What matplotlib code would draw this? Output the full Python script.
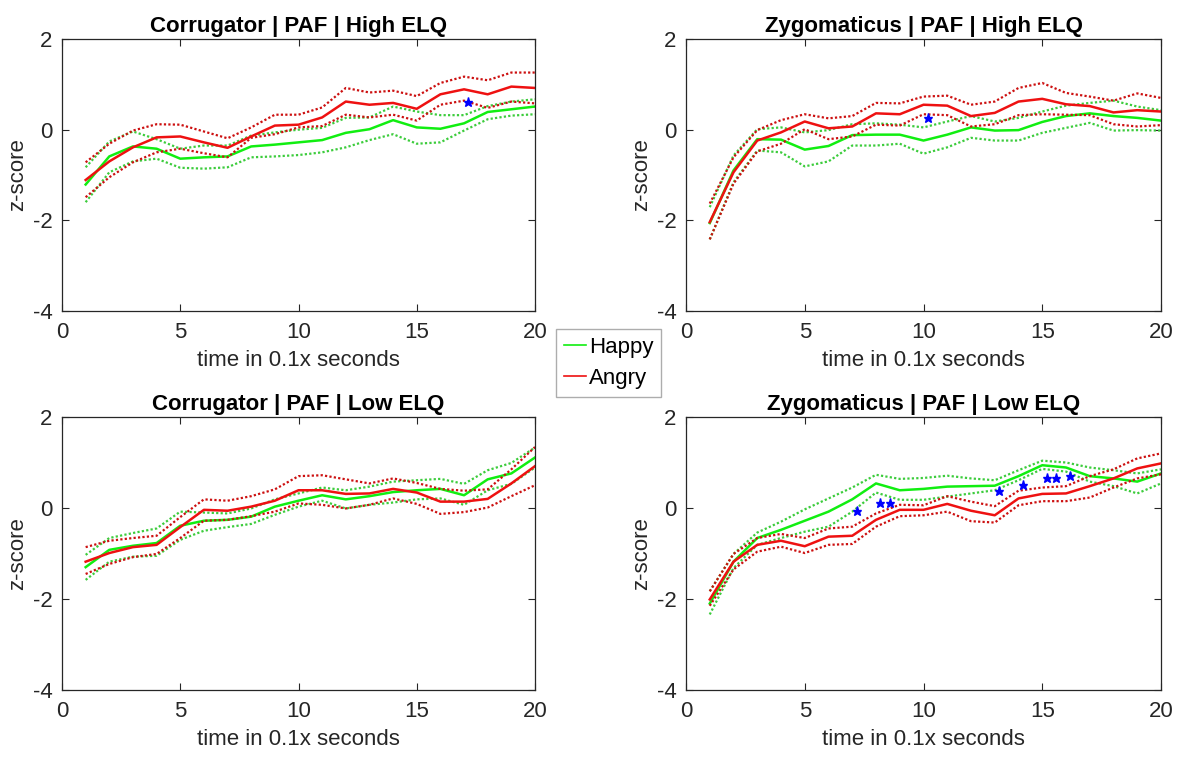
import numpy as np
import matplotlib.pyplot as plt
from matplotlib.lines import Line2D

plt.rcParams['font.family'] = ['Liberation Sans', 'DejaVu Sans']
plt.rcParams['axes.unicode_minus'] = False

t = np.arange(1, 21)

# Corrugator | PAF | High ELQ
cor_hi_happy = [-1.21, -0.59, -0.37, -0.42, -0.64, -0.61, -0.59, -0.37, -0.33, -0.28,
                -0.23, -0.07, 0.01, 0.21, 0.05, 0.02, 0.14, 0.39, 0.45, 0.51]
cor_hi_happy_up = [-0.83, -0.26, -0.04, -0.21, -0.42, -0.35, -0.35, -0.13, -0.06, 0.00,
                   0.04, 0.26, 0.27, 0.51, 0.40, 0.32, 0.32, 0.52, 0.62, 0.67]
cor_hi_happy_lo = [-1.60, -0.94, -0.70, -0.64, -0.84, -0.86, -0.83, -0.61, -0.59, -0.56,
                   -0.50, -0.39, -0.23, -0.10, -0.31, -0.28, -0.02, 0.23, 0.31, 0.34]
cor_hi_angry = [-1.11, -0.70, -0.39, -0.17, -0.15, -0.28, -0.40, -0.15, 0.09, 0.11,
                0.27, 0.62, 0.55, 0.59, 0.46, 0.78, 0.89, 0.78, 0.95, 0.92]
cor_hi_angry_up = [-0.72, -0.31, -0.02, 0.12, 0.11, -0.04, -0.19, 0.05, 0.33, 0.33,
                   0.49, 0.92, 0.82, 0.86, 0.74, 1.03, 1.17, 1.09, 1.26, 1.26]
cor_hi_angry_lo = [-1.49, -1.05, -0.72, -0.50, -0.42, -0.52, -0.61, -0.18, -0.10, 0.05,
                   0.08, 0.33, 0.27, 0.33, 0.20, 0.55, 0.64, 0.48, 0.62, 0.58]
cor_hi_sig_x = [17.15]
cor_hi_sig_y = [0.61]

# Zygomaticus | PAF | High ELQ
zyg_hi_happy = [-2.06, -0.90, -0.21, -0.22, -0.44, -0.36, -0.12, -0.11, -0.11, -0.24,
                -0.11, 0.05, -0.02, -0.01, 0.17, 0.30, 0.36, 0.30, 0.26, 0.20]
zyg_hi_happy_up = [-1.71, -0.57, 0.01, 0.05, -0.06, -0.01, 0.12, 0.14, 0.11, 0.05,
                   0.18, 0.30, 0.18, 0.26, 0.40, 0.53, 0.59, 0.64, 0.51, 0.43]
zyg_hi_happy_lo = [-2.42, -1.16, -0.46, -0.50, -0.81, -0.70, -0.35, -0.35, -0.31, -0.53,
                   -0.39, -0.18, -0.24, -0.24, -0.07, 0.04, 0.15, -0.02, -0.01, -0.02]
zyg_hi_angry = [-2.04, -0.94, -0.24, -0.06, 0.18, 0.03, 0.07, 0.36, 0.34, 0.55,
                0.53, 0.30, 0.37, 0.62, 0.68, 0.56, 0.52, 0.38, 0.43, 0.40]
zyg_hi_angry_up = [-1.63, -0.61, -0.01, 0.21, 0.34, 0.25, 0.30, 0.59, 0.58, 0.73,
                   0.75, 0.55, 0.62, 0.92, 1.03, 0.81, 0.73, 0.64, 0.80, 0.70]
zyg_hi_angry_lo = [-2.42, -1.19, -0.48, -0.31, 0.01, -0.21, -0.15, 0.11, 0.09, 0.34,
                   0.32, 0.07, 0.12, 0.32, 0.34, 0.33, 0.32, 0.12, 0.07, 0.10]
zyg_hi_sig_x = [10.17]
zyg_hi_sig_y = [0.26]

# Corrugator | PAF | Low ELQ
cor_lo_happy = [-1.30, -0.92, -0.83, -0.77, -0.39, -0.28, -0.26, -0.19, 0.03, 0.16,
                0.28, 0.19, 0.26, 0.35, 0.39, 0.42, 0.28, 0.63, 0.76, 1.11]
cor_lo_happy_up = [-1.03, -0.66, -0.55, -0.45, -0.08, -0.10, -0.12, -0.01, 0.19, 0.32,
                   0.45, 0.39, 0.47, 0.58, 0.61, 0.64, 0.53, 0.83, 0.99, 1.33]
cor_lo_happy_lo = [-1.58, -1.18, -1.07, -1.05, -0.70, -0.50, -0.42, -0.35, -0.15, 0.03,
                   0.16, -0.01, 0.07, 0.12, 0.19, 0.21, 0.07, 0.39, 0.53, 0.89]
cor_lo_angry = [-1.18, -0.99, -0.86, -0.81, -0.42, -0.04, -0.06, 0.03, 0.16, 0.39,
                0.39, 0.31, 0.32, 0.42, 0.34, 0.14, 0.14, 0.20, 0.54, 0.92]
cor_lo_angry_up = [-0.86, -0.72, -0.66, -0.61, -0.20, 0.19, 0.16, 0.26, 0.41, 0.70,
                   0.72, 0.63, 0.54, 0.65, 0.55, 0.42, 0.38, 0.41, 0.85, 1.34]
cor_lo_angry_lo = [-1.45, -1.23, -1.08, -1.01, -0.66, -0.28, -0.26, -0.18, -0.08, 0.10,
                   0.07, -0.01, 0.07, 0.21, 0.09, -0.13, -0.09, 0.01, 0.26, 0.50]
cor_lo_sig_x = []
cor_lo_sig_y = []

# Zygomaticus | PAF | Low ELQ
zyg_lo_happy = [-2.10, -1.18, -0.66, -0.48, -0.28, -0.08, 0.19, 0.54, 0.39, 0.42,
                0.47, 0.48, 0.49, 0.70, 0.94, 0.89, 0.70, 0.65, 0.58, 0.76]
zyg_lo_happy_up = [-1.83, -1.01, -0.54, -0.30, -0.03, 0.21, 0.45, 0.73, 0.64, 0.66,
                   0.71, 0.65, 0.61, 0.83, 1.04, 1.00, 0.89, 0.83, 0.76, 0.85]
zyg_lo_happy_lo = [-2.34, -1.32, -0.81, -0.66, -0.52, -0.41, -0.08, 0.34, 0.18, 0.18,
                   0.25, 0.32, 0.39, 0.61, 0.86, 0.80, 0.58, 0.48, 0.32, 0.54]
zyg_lo_angry = [-2.01, -1.18, -0.81, -0.72, -0.84, -0.63, -0.61, -0.26, -0.04, -0.04,
                0.09, -0.06, -0.16, 0.21, 0.31, 0.32, 0.48, 0.65, 0.87, 0.98]
zyg_lo_angry_up = [-1.83, -1.01, -0.66, -0.57, -0.66, -0.45, -0.41, -0.12, 0.07, 0.06,
                   0.26, 0.14, 0.04, 0.38, 0.45, 0.48, 0.70, 0.85, 1.09, 1.20]
zyg_lo_angry_lo = [-2.15, -1.35, -0.96, -0.85, -0.99, -0.81, -0.79, -0.41, -0.18, -0.16,
                   -0.08, -0.29, -0.32, 0.06, 0.15, 0.15, 0.23, 0.45, 0.65, 0.74]
zyg_lo_sig_x = [7.18, 8.18, 8.58, 13.18, 14.18, 15.19, 15.57, 16.17]
zyg_lo_sig_y = [-0.06, 0.12, 0.12, 0.38, 0.51, 0.65, 0.65, 0.71]

panels = [
    ("Corrugator | PAF | High ELQ", cor_hi_happy, cor_hi_happy_up, cor_hi_happy_lo,
     cor_hi_angry, cor_hi_angry_up, cor_hi_angry_lo, cor_hi_sig_x, cor_hi_sig_y),
    ("Zygomaticus | PAF | High ELQ", zyg_hi_happy, zyg_hi_happy_up, zyg_hi_happy_lo,
     zyg_hi_angry, zyg_hi_angry_up, zyg_hi_angry_lo, zyg_hi_sig_x, zyg_hi_sig_y),
    ("Corrugator | PAF | Low ELQ", cor_lo_happy, cor_lo_happy_up, cor_lo_happy_lo,
     cor_lo_angry, cor_lo_angry_up, cor_lo_angry_lo, cor_lo_sig_x, cor_lo_sig_y),
    ("Zygomaticus | PAF | Low ELQ", zyg_lo_happy, zyg_lo_happy_up, zyg_lo_happy_lo,
     zyg_lo_angry, zyg_lo_angry_up, zyg_lo_angry_lo, zyg_lo_sig_x, zyg_lo_sig_y),
]

# axes boxes in pixels (left, top, right, bottom) of a 1187x758 figure
W, H = 1187, 758
boxes = [(62, 39, 535, 311), (686, 39, 1161, 311),
         (62, 417, 535, 690), (686, 417, 1161, 690)]

green, red = '#11ee11', '#ee1111'
green_d, red_d = '#3ccc3c', '#cc1010'
ink = '#262626'
fs = 16

fig = plt.figure(figsize=(W / 100, H / 100), dpi=100)

for (title, h, hu, hl, a, au, al, sx, sy), (l, tp, r, b) in zip(panels, boxes):
    ax = fig.add_axes([l / W, 1 - b / H, (r - l) / W, (b - tp) / H])
    dot = (0, (1, 1))
    ax.plot(t, hu, color=green_d, lw=1.6, ls=dot)
    ax.plot(t, hl, color=green_d, lw=1.6, ls=dot)
    ax.plot(t, h, color=green, lw=1.8)
    ax.plot(t, au, color=red_d, lw=1.6, ls=dot)
    ax.plot(t, al, color=red_d, lw=1.6, ls=dot)
    ax.plot(t, a, color=red, lw=1.8)
    if sx:
        ax.plot(sx, sy, ls='none', marker='*', color='#0000ff', ms=6.5)

    ax.set_xlim(0, 20)
    ax.set_ylim(-4, 2)
    ax.set_xticks([0, 5, 10, 15, 20])
    ax.set_yticks([-4, -2, 0, 2])
    ax.tick_params(direction='in', top=True, right=True, length=5, width=0.8,
                   colors=ink, labelsize=fs)
    ax.tick_params(axis='x', pad=8)
    ax.tick_params(axis='y', pad=7)
    for sp in ax.spines.values():
        sp.set_color(ink)
        sp.set_linewidth(0.9)
    ax.set_title(title, fontsize=fs, fontweight='bold', pad=5)
    ax.set_xlabel('time in 0.1x seconds', fontsize=fs, color=ink, labelpad=5)
    ax.set_ylabel('z-score', fontsize=fs, color=ink, labelpad=3)

handles = [Line2D([], [], color=green, lw=1.2), Line2D([], [], color=red, lw=1.2)]
fig.legend(handles, ['Happy', 'Angry'], loc='center', bbox_to_anchor=(0.5127, 0.521),
           fontsize=fs, frameon=True, fancybox=False, edgecolor='#999999',
           handlelength=1.0, handletextpad=0.15, borderpad=0.35, labelspacing=0.45,
           borderaxespad=0)

fig.savefig('out.png', dpi=100)
